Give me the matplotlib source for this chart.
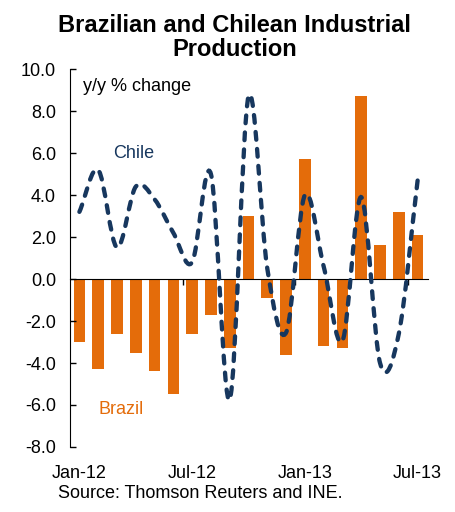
import numpy as np
import matplotlib.pyplot as plt
from matplotlib.path import Path
from matplotlib.patches import PathPatch

plt.rcParams['font.family'] = ['Liberation Sans', 'DejaVu Sans']

# monthly data, Jan-12 .. Jul-13
months = ['Jan-12', 'Feb-12', 'Mar-12', 'Apr-12', 'May-12', 'Jun-12', 'Jul-12',
          'Aug-12', 'Sep-12', 'Oct-12', 'Nov-12', 'Dec-12', 'Jan-13', 'Feb-13',
          'Mar-13', 'Apr-13', 'May-13', 'Jun-13', 'Jul-13']
brazil = [-3.0, -4.3, -2.6, -3.5, -4.4, -5.5, -2.6, -1.7, -3.3, 3.0,
          -0.9, -3.6, 5.7, -3.2, -3.3, 8.7, 1.6, 3.2, 2.1]
chile = [3.2, 5.2, 1.5, 4.4, 3.8, 2.2, 0.8, 5.0, -5.75, 8.7,
         0.5, -2.55, 4.0, 0.6, -2.95, 3.9, -4.0, -2.6, 4.7]
tick_labels = ['Jan-12', 'Jul-12', 'Jan-13', 'Jul-13']

orange = '#E46C0A'
navy = '#17375E'


def smooth_path(xs, ys):
    # smoothed line (catmull-rom) as cubic bezier segments
    P = np.column_stack([xs, ys]).astype(float)
    n = len(P)
    tang = np.zeros_like(P)
    tang[1:-1] = (P[2:] - P[:-2]) / 2
    tang[0] = P[1] - P[0]
    tang[-1] = P[-1] - P[-2]
    verts = [P[0]]
    codes = [Path.MOVETO]
    for i in range(n - 1):
        verts += [P[i] + tang[i] / 3, P[i + 1] - tang[i + 1] / 3, P[i + 1]]
        codes += [Path.CURVE4] * 3
    return Path(np.array(verts), codes)


x = np.arange(len(months))

fig = plt.figure(figsize=(4.56, 5.12), dpi=100)
ax = fig.add_axes([0.1535, 0.127, 0.785, 0.738])

ax.bar(x, brazil, width=0.62, color=orange, zorder=1)

patch = PathPatch(smooth_path(x, chile), facecolor='none', edgecolor=navy,
                  linewidth=3.1, linestyle=(0, (1.8, 2.15)), capstyle='round',
                  zorder=3)
ax.add_patch(patch)

ax.set_xlim(-0.5, 18.55)
ax.set_ylim(-8, 10)
ax.set_yticks(np.arange(-8, 10.1, 2))
ax.set_yticklabels([f'{v:.1f}' for v in np.arange(-8, 10.1, 2)], fontsize=13)
ax.tick_params(axis='y', direction='in', length=4, pad=10, width=1)

ax.spines['top'].set_visible(False)
ax.spines['right'].set_visible(False)
ax.spines['bottom'].set_position(('data', 0))
ax.spines['bottom'].set_zorder(2)
ax.set_xticks([5.5, 11.5, 17.5])
ax.set_xticklabels([])
ax.tick_params(axis='x', direction='out', length=4, width=1)

for i, lab in zip([0, 6, 12, 18], tick_labels):
    ax.text(i, -0.07, lab, transform=ax.get_xaxis_transform(),
            ha='center', va='center', fontsize=13)

ax.text(0.035, 0.955, 'y/y % change', transform=ax.transAxes,
        ha='left', va='center', fontsize=13)
ax.text(2.9, 6.0, 'Chile', color=navy, ha='center', va='center', fontsize=13)
ax.text(2.2, -6.2, 'Brazil', color=orange, ha='center', va='center', fontsize=13)

fig.text(0.514, 0.927, 'Brazilian and Chilean Industrial\nProduction',
         ha='center', va='center', fontsize=17, fontweight='bold',
         linespacing=1.05)
fig.text(0.44, 0.037, 'Source: Thomson Reuters and INE.', ha='center',
         va='center', fontsize=13)

fig.savefig('out.png', dpi=100)
